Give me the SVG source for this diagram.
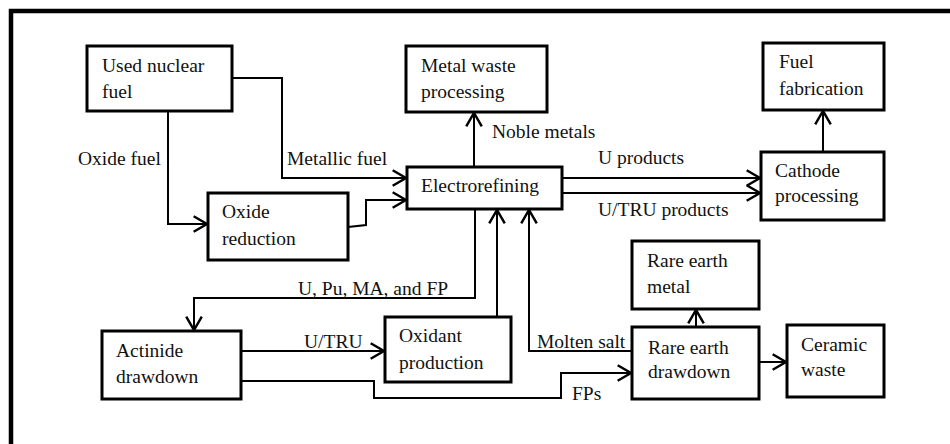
<svg xmlns="http://www.w3.org/2000/svg" width="950" height="444" viewBox="0 0 950 444" font-family="Liberation Serif, DejaVu Serif, serif">
<defs>
<style>
.box{fill:#fff;stroke:#000;stroke-width:3}
.t{font-size:19.5px;fill:#111}
.c{fill:none;stroke:#000;stroke-width:2}
</style>
<marker id="ah" markerUnits="userSpaceOnUse" markerWidth="20" markerHeight="20" viewBox="-14 -9 16 18" refX="0" refY="0" orient="auto">
<path d="M-12,-7 L0,0 L-12,7" fill="none" stroke="#000" stroke-width="2.2"/>
</marker>
</defs>
<rect width="950" height="444" fill="#fff"/>
<path d="M11,444 V11 H950" fill="none" stroke="#000" stroke-width="4.5"/>
<g id="connectors">
<path class="c" d="M232,78 H282 V178 H406" marker-end="url(#ah)"/>
<path class="c" d="M168,111 V224 H207" marker-end="url(#ah)"/>
<path class="c" d="M348,227 L366,225 V200 H406" marker-end="url(#ah)"/>
<path class="c" d="M474,167 V113" marker-end="url(#ah)"/>
<path class="c" d="M562,178 H760" marker-end="url(#ah)"/>
<path class="c" d="M562,193 H760" marker-end="url(#ah)"/>
<path class="c" d="M823,152 V111" marker-end="url(#ah)"/>
<path class="c" d="M475,209 V298 H194 V330" marker-end="url(#ah)"/>
<path class="c" d="M497,317 V210" marker-end="url(#ah)"/>
<path class="c" d="M632,351 H529 V210" marker-end="url(#ah)"/>
<path class="c" d="M241,351 H384" marker-end="url(#ah)"/>
<path class="c" d="M241,381 H374 V398 H561 V373 H631" marker-end="url(#ah)"/>
<path class="c" d="M696,327 V310" marker-end="url(#ah)"/>
<path class="c" d="M759,362 H786" marker-end="url(#ah)"/>
<text class="t" x="78" y="165">Oxide fuel</text>
<text class="t" x="287" y="165">Metallic fuel</text>
<text class="t" x="492" y="138">Noble metals</text>
<text class="t" x="598" y="164">U products</text>
<text class="t" x="598" y="216">U/TRU products</text>
<text class="t" x="298" y="295">U, Pu, MA, and FP</text>
<text class="t" x="304" y="348">U/TRU</text>
<text class="t" x="537" y="348">Molten salt</text>
<text class="t" x="572" y="400">FPs</text>
</g>
<g id="used-nuclear-fuel">
<rect class="box" x="87" y="46" width="145" height="65"/>
<text class="t" x="102" y="72">Used nuclear</text>
<text class="t" x="102" y="98">fuel</text>
</g>
<g id="metal-waste-processing">
<rect class="box" x="406" y="46" width="141" height="66"/>
<text class="t" x="421" y="72">Metal waste</text>
<text class="t" x="421" y="98">processing</text>
</g>
<g id="fuel-fabrication">
<rect class="box" x="763" y="43" width="121" height="67"/>
<text class="t" x="779" y="68">Fuel</text>
<text class="t" x="779" y="95">fabrication</text>
</g>
<g id="electrorefining">
<rect class="box" x="407" y="167" width="155" height="42"/>
<text class="t" x="421" y="192">Electrorefining</text>
</g>
<g id="cathode-processing">
<rect class="box" x="761" y="152" width="123" height="68"/>
<text class="t" x="775" y="177">Cathode</text>
<text class="t" x="775" y="202">processing</text>
</g>
<g id="oxide-reduction">
<rect class="box" x="208" y="193" width="140" height="67"/>
<text class="t" x="222" y="218">Oxide</text>
<text class="t" x="222" y="245">reduction</text>
</g>
<g id="actinide-drawdown">
<rect class="box" x="102" y="331" width="139" height="68"/>
<text class="t" x="116" y="357">Actinide</text>
<text class="t" x="116" y="383">drawdown</text>
</g>
<g id="oxidant-production">
<rect class="box" x="385" y="317" width="126" height="65"/>
<text class="t" x="399" y="342">Oxidant</text>
<text class="t" x="399" y="369">production</text>
</g>
<g id="rare-earth-metal">
<rect class="box" x="632" y="241" width="127" height="68"/>
<text class="t" x="647" y="267">Rare earth</text>
<text class="t" x="647" y="293">metal</text>
</g>
<g id="rare-earth-drawdown">
<rect class="box" x="632" y="327" width="127" height="72"/>
<text class="t" x="648" y="354">Rare earth</text>
<text class="t" x="648" y="378">drawdown</text>
</g>
<g id="ceramic-waste">
<rect class="box" x="787" y="325" width="97" height="72"/>
<text class="t" x="801" y="351">Ceramic</text>
<text class="t" x="801" y="376">waste</text>
</g>
</svg>
